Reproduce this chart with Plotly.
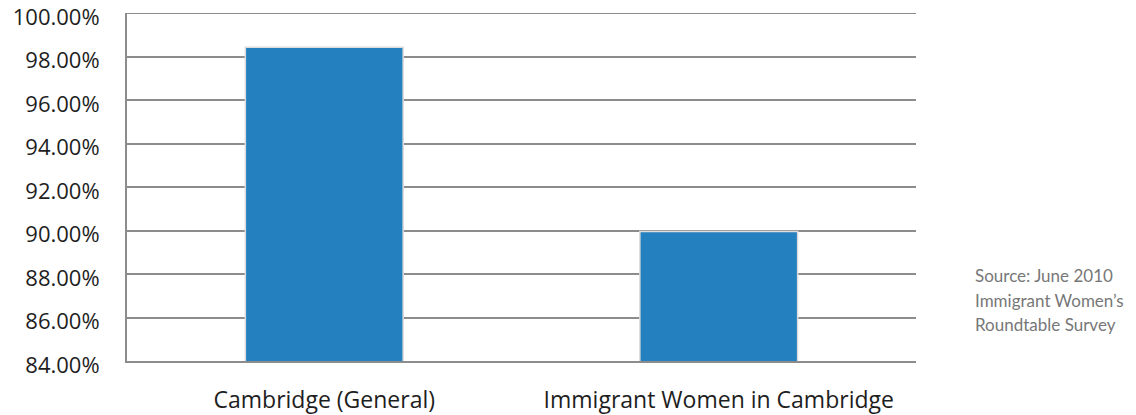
import plotly.graph_objects as go

categories = ["Cambridge (General)", "Immigrant Women in Cambridge"]
values = [98.43, 89.95]
y_ticks = [84, 86, 88, 90, 92, 94, 96, 98, 100]
y_labels = [f"{v:.2f}%" for v in y_ticks]
source_lines = ["Source: June 2010", "Immigrant Women’s", "Roundtable Survey"]

fig = go.Figure()
fig.add_trace(go.Bar(
    x=categories, y=values,
    marker=dict(color="#2580bf", line=dict(color="#dcdcdc", width=1.5)),
    width=0.4,
))

fig.update_layout(
    template="none",
    width=1136, height=415,
    margin=dict(l=127, r=220, t=13, b=54, autoexpand=False),
    paper_bgcolor="white", plot_bgcolor="white",
    showlegend=False,
    font=dict(family="Open Sans", color="#1e1e1e"),
    xaxis=dict(
        showgrid=False, showline=True, linecolor="#8c8c8c", linewidth=2,
        tickfont=dict(size=23, family="Open Sans", color="#1e1e1e"),
        ticks="", ticklabelstandoff=17, automargin=False,
        ticklabeloverflow="allow",
    ),
    yaxis=dict(
        range=[84, 100], tickvals=y_ticks, ticktext=y_labels,
        showgrid=True, gridcolor="#8c8c8c", gridwidth=2,
        showline=True, linecolor="#8c8c8c", linewidth=2,
        tickfont=dict(size=22, family="Open Sans", color="#1e1e1e"),
        ticks="", ticklabelstandoff=21, ticklabelshift=4,
        zeroline=False, automargin=False, ticklabeloverflow="allow",
    ),
    shapes=[dict(type="line", xref="paper", yref="y", x0=0, x1=1, y0=100, y1=100,
                 line=dict(color="#8c8c8c", width=2), layer="below")],
)

shifts = [86, 61, 37]
for line, s in zip(source_lines, shifts):
    fig.add_annotation(
        text=line, xref="paper", yref="paper",
        x=1, xshift=57, y=0, yshift=s, xanchor="left", yanchor="middle",
        showarrow=False, font=dict(size=17, family="Lato", color="#777777"),
    )

fig.write_html("out.html", config={"displayModeBar": False},
               post_script="document.body.style.margin='0';")
